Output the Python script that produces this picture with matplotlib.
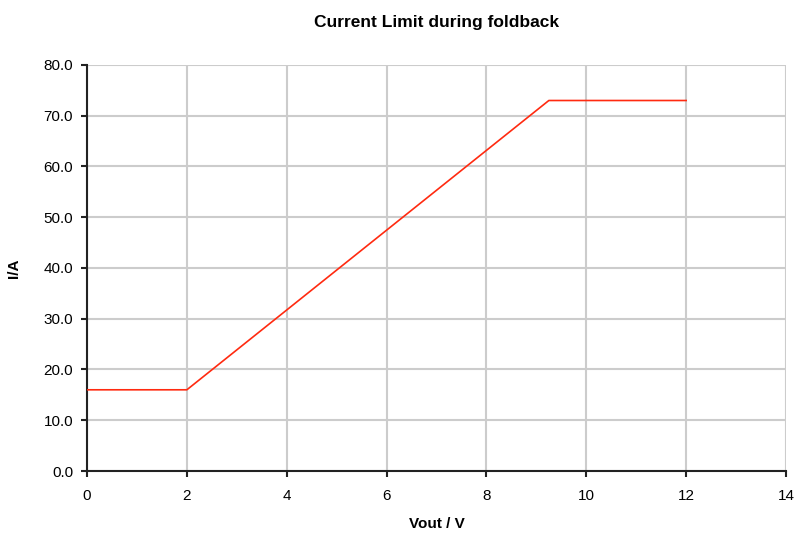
import matplotlib.pyplot as plt
from matplotlib.ticker import FormatStrFormatter

# Datos de la curva de limitación de corriente
vout = [0, 2, 9.25, 12]
corriente = [16.0, 16.0, 73.0, 73.0]

x_ticks = [0, 2, 4, 6, 8, 10, 12, 14]
y_ticks = [0, 10, 20, 30, 40, 50, 60, 70, 80]

plt.rcParams['font.family'] = ['Liberation Sans', 'DejaVu Sans']

fig = plt.figure(figsize=(8, 5.37), dpi=100)
ax = fig.add_axes([0.10875, 0.1229, 0.87375, 0.7561])

ax.plot(vout, corriente, color='#ff2a10', linewidth=1.2, zorder=3)

ax.set_xlim(0, 14)
ax.set_ylim(0, 80)
ax.set_xticks(x_ticks)
ax.set_yticks(y_ticks)
ax.yaxis.set_major_formatter(FormatStrFormatter('%.1f'))

ax.grid(True, color='#cccccc', linewidth=1.5)
ax.set_axisbelow(True)
for s in ['top', 'right']:
    ax.spines[s].set_visible(False)
for s in ['left', 'bottom']:
    ax.spines[s].set_linewidth(1.5)
    ax.spines[s].set_color('#222222')
ax.tick_params(axis='both', direction='out', length=4, width=1.5, labelsize=11, color='#222222')
ax.tick_params(axis='x', pad=9)
ax.tick_params(axis='y', pad=6)

ax.set_title('Current Limit during foldback', fontsize=12.5, fontweight='bold', pad=27)
ax.set_xlabel('Vout / V', fontsize=11, fontweight='bold', labelpad=10)
ax.set_ylabel('I/A', fontsize=11, fontweight='bold', labelpad=16)

fig.savefig('out.png', dpi=100)
